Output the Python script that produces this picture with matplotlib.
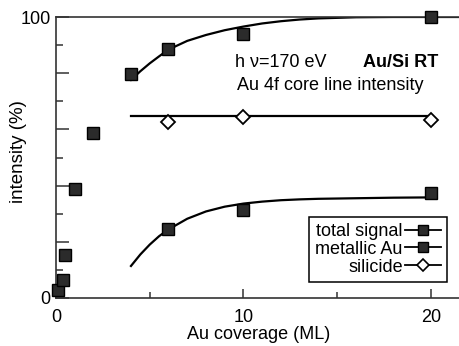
import matplotlib.pyplot as plt
from matplotlib.lines import Line2D
from matplotlib.ticker import FixedLocator, FuncFormatter

plt.rcParams['font.family'] = ['Liberation Sans', 'DejaVu Sans']

# measured points
total_x = [0.1, 0.4, 0.5, 1, 2, 4, 6, 10, 20]
total_y = [2.8, 6.4, 15.3, 38.8, 58.7, 79.7, 88.6, 94, 100]

metal_x = [6, 10, 20]
metal_y = [24.5, 31.3, 37.4]

silic_x = [6, 10, 20]
silic_y = [62.6, 64.4, 63.3]

# fitted curves
fit_total_x = [4.0, 4.5, 5.0, 5.5, 6.0, 7.0, 8.0, 9.0, 10, 11, 12, 13, 14, 16, 18, 21.5]
fit_total_y = [77.6, 80.7, 83.5, 86.0, 88.4, 91.5, 93.6, 95.3, 96.6, 97.7, 98.5, 99.1, 99.5, 99.9, 100, 100]

fit_metal_x = [4.0, 4.5, 5.0, 5.5, 6.0, 7.0, 8.0, 9.0, 10, 11, 12, 13, 14, 16, 18, 20]
fit_metal_y = [11.4, 15.5, 19.0, 22.0, 24.4, 28.2, 30.8, 32.5, 33.6, 34.3, 34.8, 35.1, 35.3, 35.5, 35.7, 35.8]

fit_silic_x = [4, 20]
fit_silic_y = [64.8, 64.8]

fig = plt.figure(figsize=(4.59, 3.46), dpi=100)
ax = fig.add_axes([56 / 459, 1 - 298 / 346, 1 - 56 / 459, (298 - 17) / 346])

sq = dict(marker='s', markersize=8.5, markerfacecolor='#2b2b2b', markeredgecolor='black',
          linestyle='none', clip_on=False, zorder=4)

ax.plot(fit_total_x, fit_total_y, color='black', lw=1.6)
ax.plot(fit_metal_x, fit_metal_y, color='black', lw=1.6)
ax.plot(fit_silic_x, fit_silic_y, color='black', lw=1.6)

ax.plot(total_x, total_y, **sq)
ax.plot(metal_x, metal_y, **sq)
ax.plot(silic_x, silic_y, marker='D', markersize=7, markerfacecolor='white',
        markeredgecolor='black', markeredgewidth=1.3, linestyle='none', zorder=4)

ax.set_xlim(0, 21.5)
ax.set_ylim(0, 100)

ax.spines['right'].set_visible(False)
for s in ['left', 'bottom', 'top']:
    ax.spines[s].set_linewidth(1.2)
    ax.spines[s].set_color('#333333')

ax.xaxis.set_major_locator(FixedLocator([0, 10, 20]))
ax.xaxis.set_minor_locator(FixedLocator([5, 15]))
ax.yaxis.set_major_locator(FixedLocator([0, 20, 40, 60, 80, 100]))
ax.yaxis.set_minor_locator(FixedLocator([10, 30, 50, 70, 90]))
ax.yaxis.set_major_formatter(FuncFormatter(lambda v, p: f'{v:.0f}' if v in (0, 100) else ''))

ax.tick_params(which='both', direction='in', labelsize=13, color='#333333', width=1.1)
ax.tick_params(axis='y', which='major', length=9.5, pad=4)
ax.tick_params(axis='y', which='minor', length=5)
ax.tick_params(axis='x', which='major', length=6.5, pad=8)
ax.tick_params(axis='x', which='minor', length=4)

ax.set_xlabel('Au coverage (ML)', fontsize=13)
ax.set_ylabel('intensity (%)', fontsize=13.5)
ax.xaxis.set_label_coords(0.504, -0.1)
ax.yaxis.set_label_coords(-0.072, 0.52)

ax.text(9.55, 82.2, 'h \u03bd=170 eV', fontsize=13)
ax.text(16.4, 82.2, 'Au/Si RT', fontsize=13, fontweight='bold')
ax.text(9.65, 74, 'Au 4f core line intensity', fontsize=13)

handles = [
    Line2D([], [], color='black', lw=1.3, marker='s', markersize=7,
           markerfacecolor='#2b2b2b', markeredgecolor='black'),
    Line2D([], [], color='black', lw=1.3, marker='s', markersize=7,
           markerfacecolor='#2b2b2b', markeredgecolor='black'),
    Line2D([], [], color='black', lw=1.3, marker='D', markersize=6,
           markerfacecolor='white', markeredgecolor='black', markeredgewidth=1.2),
]
labels = ['total signal', 'metallic Au', 'silicide']
leg = ax.legend(handles, labels, loc='lower right', bbox_to_anchor=(447 / 459, 1 - 282 / 346),
                bbox_transform=fig.transFigure, markerfirst=False, fontsize=13,
                fancybox=False, framealpha=1, edgecolor='black', handlelength=2.0,
                handletextpad=0.1, labelspacing=0.05, borderpad=0.35, borderaxespad=0)
leg.get_frame().set_linewidth(1.1)

fig.savefig('out.png', dpi=100)
